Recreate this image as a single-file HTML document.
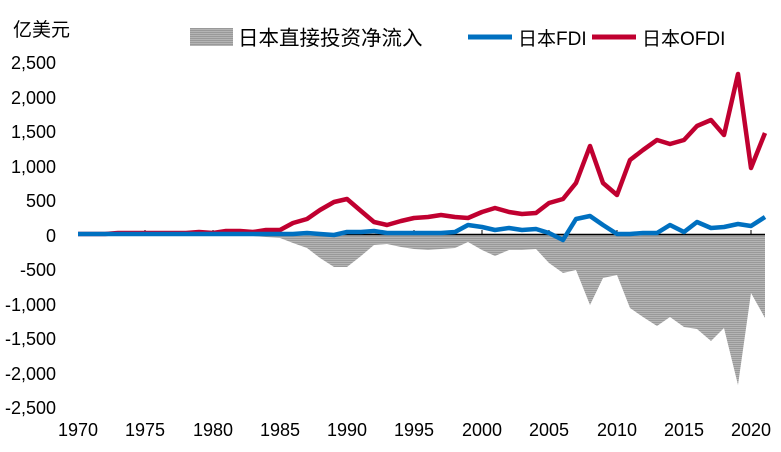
<!DOCTYPE html>
<html><head><meta charset="utf-8"><style>
body{margin:0;background:#fff}
svg{display:block;font-family:"Liberation Sans","Noto Sans CJK SC",sans-serif}
</style></head><body>
<svg width="781" height="452" viewBox="0 0 781 452" xmlns="http://www.w3.org/2000/svg">
<defs>
<pattern id="h" width="2" height="2" patternUnits="userSpaceOnUse">
<rect width="2" height="2" fill="#b4b4b4"/><rect width="2" height="1" fill="#999"/>
</pattern>
</defs>
<text x="13" y="36" font-size="19" fill="#000">亿美元</text>
<g font-size="18" fill="#000" text-anchor="end">
<text x="56" y="69">2,500</text>
<text x="56" y="104">2,000</text>
<text x="56" y="138">1,500</text>
<text x="56" y="173">1,000</text>
<text x="56" y="207">500</text>
<text x="56" y="242">0</text>
<text x="56" y="276">-500</text>
<text x="56" y="311">-1,000</text>
<text x="56" y="345">-1,500</text>
<text x="56" y="380">-2,000</text>
<text x="56" y="414">-2,500</text>
</g>
<g font-size="18" fill="#000" text-anchor="middle">
<text x="78" y="436">1970</text>
<text x="145" y="436">1975</text>
<text x="213" y="436">1980</text>
<text x="280" y="436">1985</text>
<text x="347" y="436">1990</text>
<text x="414" y="436">1995</text>
<text x="482" y="436">2000</text>
<text x="549" y="436">2005</text>
<text x="617" y="436">2010</text>
<text x="684" y="436">2015</text>
<text x="751" y="436">2020</text>
</g>
<polygon fill="url(#h)" points="78,234.5 212,234.5 226,235 240,235.5 253,236 266,237 280,238 293,243 307,248 320,258 334,267 347,267 361,256 374,245 387,244 401,247 414,249 428,250 441,249 455,248 468,242 482,250 495,256 509,250 522,250 536,249 549,263 563,273 576,270 590,305 603,278 617,275 630,308 643,317 657,326 670,317 684,327 697,329 711,341 724,328 738,385 751,293 765,318 765,234.5"/>
<line x1="78" y1="234.5" x2="765" y2="234.5" stroke="#000" stroke-width="1.5"/>
<g stroke="#000" stroke-width="1">
<line x1="145" y1="234" x2="145" y2="230"/><line x1="213" y1="234" x2="213" y2="230"/><line x1="280" y1="234" x2="280" y2="230"/><line x1="347" y1="234" x2="347" y2="230"/><line x1="414" y1="234" x2="414" y2="230"/><line x1="482" y1="234" x2="482" y2="230"/><line x1="549" y1="234" x2="549" y2="230"/><line x1="617" y1="234" x2="617" y2="230"/><line x1="684" y1="234" x2="684" y2="230"/><line x1="751" y1="234" x2="751" y2="230"/>
</g>
<polyline fill="none" stroke="#c00030" stroke-width="4.5" stroke-linejoin="round" points="78,234 92,234 105,234 118,233 132,233 145,233 159,233 172,233 186,233 199,232 213,233 226,231 240,231 253,232 266,230 280,230 293,223 307,219 320,210 334,202 347,199 361,211 374,222 387,225 401,221 414,218 428,217 441,215 455,217 468,218 482,212 495,208 509,212 522,214 536,213 549,203 563,199 576,183 590,146 603,183 617,195 630,160 643,150 657,140 670,144 684,140 697,126 711,120 724,135 738,74 751,168 765,133"/>
<polyline fill="none" stroke="#0070c0" stroke-width="4.5" stroke-linejoin="round" points="78,234 92,234 105,234 118,234 132,234 145,234 159,234 172,234 186,234 199,234 213,234 226,234 240,234 253,234 266,234 280,234 293,234 307,233 320,234 334,235 347,232 361,232 374,231 387,233 401,233 414,233 428,233 441,233 455,232 468,225 482,227 495,230 509,228 522,230 536,229 549,233 563,240 576,219 590,216 603,225 617,234 630,234 643,233 657,233 670,225 684,232 697,222 711,228 724,227 738,224 751,226 765,217"/>
<rect x="190" y="28" width="43" height="18" fill="url(#h)"/>
<text x="238" y="45" font-size="20.5" fill="#000">日本直接投资净流入</text>
<line x1="468" y1="37" x2="512" y2="37" stroke="#0070c0" stroke-width="5"/>
<text x="518" y="45" font-size="19" fill="#000">日本FDI</text>
<line x1="592" y1="37" x2="636" y2="37" stroke="#c00030" stroke-width="5"/>
<text x="642" y="45" font-size="19" fill="#000">日本OFDI</text>
</svg>
</body></html>
